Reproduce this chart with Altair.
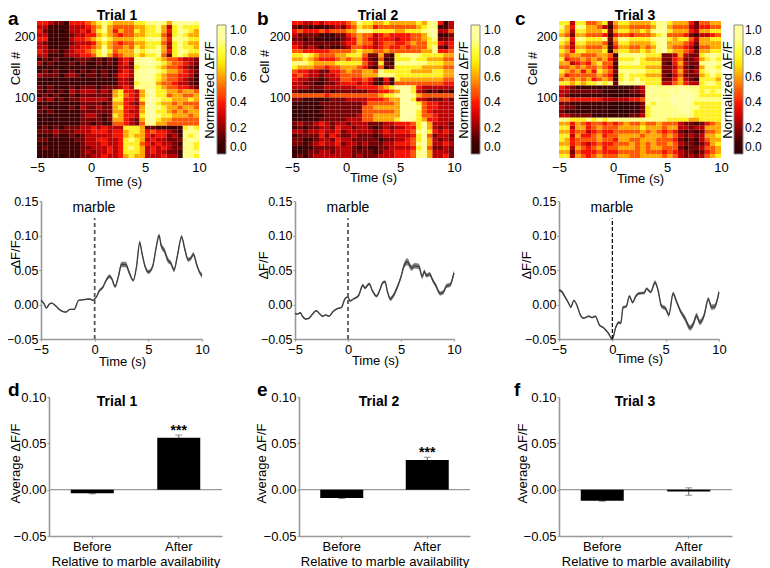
import altair as alt
import pandas as pd

FONT = "Liberation Sans"
OX, OY = 8, 8  # page margin

# Heatmap rows, top to bottom; each digit indexes LEVELS (normalized dF/F), columns span -5..10 s
LEVELS = [0, 0.07, 0.17, 0.27, 0.38, 0.49, 0.61, 0.74, 0.87, 1.0]
HEAT_A = [
"4432214445 6787666677 8898689998","3311113334 5686555566 7786378777","4211013343 5786465576 7786478876",
"3311112334 4676545566 7775378766","4411113445 6797666677 8896488877","3210112333 4676545566 7775378766",
"3311113344 5686556576 7786378776","4322123445 6797566687 8896478877","3311123344 5786456676 7785278766",
"1212111222 1212134389 9876554332","3121112121 1212134289 9987655432","1111011111 1111133278 8876554321",
"1212112121 2121134389 9987665432","3222123212 2121244389 9876554431","1101011111 1111133289 9876554321",
"1111111111 1111133278 8865543321","2121112122 2122234388 8876554432",
"2121213233 3232674436 9977665665","1212112122 2222675436 8977566556","3231212233 3332774437 9987766676",
"1111111122 2212664325 9976656555","1211112132 2322674436 9987665665","2121111122 2222664336 9977656566",
"1111111123 3212764437 9987766656","0101111122 2212664326 9976655555","1111111122 1211554325 8866555555",
"1212122233 4343337776 2211111787","2223222333 4443446776 4544321888","1112112123 3333446766 4344231878",
"2211111223 3443347876 3433222898","1111111123 3343347775 4343321887","1211111122 3334347876 3434322887",
"1111111123 2334347776 3433221888","0110011122 3343346766 3334331887",
]
HEAT_B = [
"4433434444 5687766766 6667688413","2121111232 4576645555 5556788113","4544454555 6698877776 6777899335",
"3222211122 4565534544 4455689112","2212110112 3465434443 4455678223","3322222223 4465534554 4565577434",
"4323212112 3554434544 5455578214","5544444555 5676655655 5555668445",
"7787655566 7775226217 8888777766","6676544456 5664215117 7787766655","8887666677 7775327218 9898877766",
"7666554556 6654215127 7777666655",
"5443322445 6556658777 7766667766","4543323345 5556668887 7777777766","4332212335 5445421417 6666666655",
"3322112234 4434311315 5555555544",
"3332223333 3344445679 9974333333","2111112122 2222334456 9973212121","5555554555 5555556778 9986555555",
"2211111222 3333444566 9973322232",
"1111122222 2223555556 9997544333","0111112222 2225566666 9998544333","1011122222 2225555556 9997543333",
"0101112222 2235566666 9997554333","1111122222 3335566667 9987644333",
"2322343233 2333222334 4457963332","1212233243 3233212323 3447963232","3323343342 3333323434 4458974343",
"1222242432 2322212333 3347952332","2211233243 3222221223 3457963232","2212343342 3323222334 4458963343",
"1011222233 3212112233 3347952232","0112233233 3222212334 4458963332","1212333333 3232223334 4458963342",
]
HEAT_C = [
"7737755672 6776666789 7666425566","8648866531 5665555689 6555324455","7637766672 6776676899 7666436677",
"6526655541 4554555678 5554213345","8748877782 6887777899 7677536677","7637766651 5776666789 6665426666",
"6536655561 4665565689 6554315566","7647766671 6776676789 7665426677",
"6566555665 1888887772 2363227898","7455656564 2777876662 2452236787","6634546755 1888977772 1463228998",
"5565655654 1777776662 2352126887","7656464765 2888887772 2463237898","6455555654 1787776662 1352226787",
"5656564565 1787977772 2463217776","7767677878 2898987773 3564337887",
"4321111111 0111238888 8898887777","3322222211 1112238988 9899887878","3211111111 0001128888 8999987777",
"5544444433 3334458998 9999988888","2211111111 0000128788 8999877777","3221111110 0001127888 8899887777",
"2111111110 0001127888 8899877777","3322221111 1112237888 8888877777",
"8877787878 8888888888 7777667777","6646545545 4565565565 5532212456","7736645655 5666676665 6633233666",
"6645534544 5555565654 5421212556","7736445645 5666656665 6532323667","7645555655 4665566655 5421213566",
"6645434544 5556565655 6532212467","7736545645 5666565665 5521223556","6625444544 4555565554 5432212456",
"7736545655 5665566665 6532323567",
]

# (time s, mean dF/F, half-width of the shaded band)
LINE_A = [(-5,.006,.001),(-4.75,.002,.001),(-4.5,-.005,.001),(-4.2,.001,.001),(-4,.002,.001),(-3.7,-.001,.001),
(-3.3,-.007,.001),(-3,-.010,.001),(-2.7,-.011,.001),(-2.3,-.007,.001),(-1.9,-.007,.001),(-1.5,.006,.001),
(-1,.007,.001),(-.5,.008,.001),(-.1,.006,.001),(0,.008,.001),(.2,.012,.001),(.4,.019,.002),(.8,.026,.002),
(1,.033,.002),(1.4,.041,.003),(1.6,.037,.002),(1.9,.026,.002),(2.2,.040,.003),(2.5,.058,.004),(2.9,.058,.004),
(3.2,.047,.003),(3.6,.035,.002),(3.9,.055,.003),(4.2,.090,.003),(4.4,.075,.003),(4.7,.055,.003),(5,.047,.003),
(5.4,.055,.003),(5.7,.080,.003),(6,.100,.003),(6.2,.085,.004),(6.5,.078,.004),(6.8,.065,.004),(7.1,.060,.003),
(7.4,.050,.003),(7.7,.070,.003),(8.1,.098,.003),(8.4,.080,.003),(8.7,.065,.003),(9,.068,.003),(9.2,.073,.003),
(9.5,.058,.003),(9.8,.046,.003),(10,.042,.004)]
LINE_B = [(-5,-.013,.001),(-4.8,-.014,.001),(-4.5,-.012,.001),(-4.3,-.017,.001),(-4,-.021,.001),(-3.7,-.020,.001),
(-3.4,-.015,.001),(-3,-.009,.001),(-2.7,-.013,.001),(-2.4,-.017,.001),(-2.1,-.015,.001),(-1.8,-.017,.001),
(-1.4,-.010,.001),(-1,-.006,.001),(-.6,-.004,.001),(-.3,.008,.001),(0,.011,.001),(.2,.005,.001),(.5,.008,.001),
(1,.013,.002),(1.4,.028,.002),(1.6,.024,.002),(2,.030,.002),(2.3,.020,.002),(2.7,.012,.002),(3,.021,.002),
(3.3,.032,.002),(3.5,.033,.002),(3.7,.020,.002),(4,.008,.003),(4.2,.011,.003),(4.7,.027,.003),(5,.040,.003),
(5.3,.057,.004),(5.6,.062,.005),(6,.053,.004),(6.3,.056,.004),(6.7,.055,.004),(7,.040,.003),(7.2,.048,.003),
(7.4,.042,.003),(7.7,.044,.003),(8,.035,.003),(8.3,.027,.003),(8.7,.016,.003),(9,.018,.003),(9.3,.027,.003),
(9.6,.028,.003),(10,.046,.004)]
LINE_C = [(-5,.021,.002),(-4.7,.018,.002),(-4.4,.010,.002),(-4.1,.002,.001),(-3.9,-.004,.001),(-3.6,.006,.001),
(-3.3,-.002,.001),(-3,-.015,.001),(-2.7,-.020,.001),(-2.2,-.017,.001),(-1.9,-.019,.001),(-1.6,-.017,.001),
(-1.2,-.030,.001),(-.8,-.034,.001),(-.4,-.041,.001),(0,-.050,.002),(.3,-.034,.002),(.6,-.026,.002),(.8,-.027,.002),
(1,-.004,.002),(1.3,-.003,.002),(1.6,.012,.002),(1.9,.003,.002),(2.2,.012,.002),(2.5,.016,.002),(3,.017,.002),
(3.2,.023,.002),(3.6,.018,.002),(4,.032,.003),(4.3,.020,.003),(4.6,-.002,.003),(5,-.006,.003),(5.3,-.015,.003),
(5.7,.016,.003),(6,.005,.003),(6.4,-.010,.003),(6.8,-.020,.004),(7.3,-.034,.004),(7.6,-.028,.004),(7.9,-.016,.004),
(8.2,-.026,.004),(8.6,-.016,.004),(9,.008,.003),(9.3,-.004,.004),(9.6,-.003,.004),(10,.018,.004)]

BAR_GROUPS = ["Before", "After"]
BAR_D = [-0.004, 0.056]
BAR_E = [-0.009, 0.032]
BAR_F = [-0.012, -0.002]
ERR_D = [0.0005, 0.003]
ERR_E = [0.0005, 0.003]
ERR_F = [0.0005, 0.004]
STARS = {"d": 0.0635, "e": 0.0395}

HEAT_COLORS = ["#000000", "#460000", "#8c0000", "#d20000", "#ff1700", "#ff5c00",
               "#ffa200", "#ffe800", "#ffff36", "#ffff9c", "#ffffff"]
LEG_VALUES = [0, 0.2, 0.4, 0.6, 0.8, 1.0]
GRAY = "#999999"


def label(text, x, y, size=13, weight="normal", angle=0, align="center"):
    return alt.Chart(pd.DataFrame({"t": [text]})).mark_text(
        font=FONT, fontSize=size, fontWeight=weight, angle=angle, align=align,
        baseline="middle", color="#000000",
    ).encode(text="t:N", x=alt.value(x - OX), y=alt.value(y - OY))


def axis(orient, at, title, tx, ty, values, fmt=None, tick=2, pad=1, domain=True, size=12.5, **kw):
    """tx, ty: page position of the axis title centre."""
    off = (at - OY - H) if orient == "bottom" else -(at - OX)
    args = dict(orient=orient, offset=off, values=values, grid=False, domain=domain,
                domainColor=GRAY, domainWidth=1.6, tickColor=GRAY, tickSize=tick, tickWidth=1.2,
                ticks=tick > 0, labelFont=FONT, labelFontSize=size, labelColor="#000", labelPadding=pad,
                labelOverlap=False, labelFlush=False, title=title, titleFont=FONT, titleFontSize=13,
                titleFontWeight="normal", titleColor="#000", titleBaseline="middle", titleAlign="center")
    if orient == "bottom":
        args.update(titleX=tx - OX, titleY=ty - at, titleAngle=0)
    else:
        args.update(titleX=tx - at, titleY=ty - OY, titleAngle=270)
    if fmt:
        args["format"] = fmt
    args.update(kw)
    return alt.Axis(**args)


def heat(rows, x0, x1, cb_x, cb_off, tx, ty, cx, cy):
    h = 225 / len(rows)
    recs = []
    for i, row in enumerate(rows):
        row = row.replace(" ", "")
        w = 15 / len(row)
        for j, ch in enumerate(row):
            recs.append(dict(a=-5 + j * w, b=-5 + (j + 1) * w, c=225 - (i + 1) * h, d=225 - i * h, v=LEVELS[int(ch)]))
    xs = alt.Scale(domain=[-5, 10], range=[x0 - OX, x1 - OX], nice=False, zero=False)
    ys = alt.Scale(domain=[0, 225], range=[158 - OY, 21 - OY], nice=False, zero=False)
    return alt.Chart(pd.DataFrame(recs)).mark_rect(strokeWidth=0).encode(
        x=alt.X("a:Q", scale=xs, axis=axis("bottom", 158, "Time (s)", tx, ty, [-5, 0, 5, 10], fmt="d", tick=0, pad=3, domain=False, size=13)),
        x2="b:Q",
        y=alt.Y("c:Q", scale=ys, axis=axis("left", x0, "Cell #", cx, cy, [100, 200], fmt="d", tick=0, pad=2, domain=False)),
        y2="d:Q",
        color=alt.Color("v:Q", scale=alt.Scale(domain=[0, 1], range=HEAT_COLORS), legend=alt.Legend(
            orient="none", legendX=cb_x - OX, legendY=25 - OY, direction="vertical", title=None,
            gradientLength=129, gradientThickness=9, gradientStrokeColor="#888888", gradientStrokeWidth=1,
            values=LEG_VALUES, format=".1f", labelFont=FONT, labelFontSize=12, labelColor="#000",
            labelOffset=cb_off, labelOverlap=False)),
    )


def trace(data, x0, x1, dash, width, color, tx, ty, cx, cy):
    df = pd.DataFrame(data, columns=["t", "m", "e"])
    df["lo"] = df.m - df.e
    df["hi"] = df.m + df.e
    xs = alt.Scale(domain=[-5, 10], range=[x0 - OX, x1 - OX], nice=False, zero=False)
    ys = alt.Scale(domain=[-0.05, 0.15], range=[339 - OY, 201 - OY], nice=False, zero=False)
    band = alt.Chart(df).mark_area(color="#808080", interpolate="monotone").encode(
        x=alt.X("t:Q", scale=xs, axis=axis("bottom", 339, "Time (s)", tx, ty, [-5, 0, 5, 10], fmt="d", size=13, pad=2)),
        y=alt.Y("lo:Q", scale=ys, axis=axis("left", x0, "\u0394F/F", cx, cy, [-0.05, 0, 0.05, 0.10, 0.15], fmt=".2f")),
        y2="hi:Q",
    )
    line = alt.Chart(df).mark_line(color="#404040", strokeWidth=1.4, interpolate="monotone").encode(
        x=alt.X("t:Q", scale=xs, axis=None), y=alt.Y("m:Q", scale=ys, axis=None))
    rule_df = pd.DataFrame({"t": [0], "a": [-0.05], "b": [0.125]})
    rule = alt.Chart(rule_df).mark_rule(color=color, strokeWidth=width, strokeDash=dash).encode(
        x=alt.X("t:Q", scale=xs, axis=None), y=alt.Y("a:Q", scale=ys, axis=None), y2="b:Q")
    return [band, line, rule]


def bars(vals, errs, x0, x1, cx, star=None):
    df = pd.DataFrame({"g": BAR_GROUPS, "v": vals, "e": errs})
    df["lo"] = df.v - df.e
    df["hi"] = df.v + df.e
    xs = alt.Scale(domain=BAR_GROUPS, range=[x0 - OX, x1 - OX], paddingInner=0, paddingOuter=0)
    ys = alt.Scale(domain=[-0.05, 0.10], range=[536 - OY, 397 - OY], nice=False, zero=False)
    xn = alt.X("g:N", scale=xs, axis=None, sort=BAR_GROUPS)
    yn = lambda f: alt.Y(f, scale=ys, axis=None)
    zero = alt.Chart(pd.DataFrame({"z": [0]})).mark_rule(color=GRAY, strokeWidth=1.4).encode(
        x=alt.value(x0 - OX), x2=alt.value(x1 - OX), y=yn("z:Q"))
    err = alt.Chart(df).mark_rule(color="#666666", strokeWidth=1).encode(x=xn, y=yn("lo:Q"), y2="hi:Q")
    cap_hi = alt.Chart(df).mark_tick(color="#666666", size=7, thickness=1, orient="horizontal").encode(x=xn, y=yn("hi:Q"))
    cap_lo = alt.Chart(df).mark_tick(color="#666666", size=7, thickness=1, orient="horizontal").encode(x=xn, y=yn("lo:Q"))
    bar = alt.Chart(df).mark_bar(color="#000000", size=43).encode(
        x=alt.X("g:N", scale=xs, sort=BAR_GROUPS, axis=axis(
            "bottom", 536, "Relative to marble availability", (x0 + x1) / 2, 561.5, BAR_GROUPS,
            labelAngle=0, tick=2, pad=2, size=13)),
        y=alt.Y("v:Q", scale=ys, stack=None, axis=axis(
            "left", x0, "Average \u0394F/F", cx, 463, [-0.05, 0, 0.05, 0.10], fmt=".2f", size=13)),
    )
    out = [zero, err, cap_hi, cap_lo, bar]
    if star is not None:
        sd = pd.DataFrame({"g": ["After"], "s": [star], "t": ["***"]})
        out.append(alt.Chart(sd).mark_text(font=FONT, fontSize=14, fontWeight="bold", baseline="middle", color="#000").encode(
            x=xn, y=yn("s:Q"), text="t:N"))
    return out


H = 560
layers = []
layers.append(heat(HEAT_A, 37, 199, 217, 4, 118, 181, 15, 68))
layers.append(heat(HEAT_B, 292, 454, 471, 4, 373, 177, 264, 66))
layers.append(heat(HEAT_C, 559, 721, 734, 2, 640, 178, 532, 68))
layers += trace(LINE_A, 41, 202, [4, 3], 1.8, "#555555", 122, 361, 15, 254)
layers += trace(LINE_B, 295, 454, [4, 3], 1.8, "#555555", 375, 360, 263, 265)
layers += trace(LINE_C, 559, 719, [4, 2], 1.2, "#000000", 639, 358, 526, 265)
layers += bars(BAR_D, ERR_D, 49, 222, 15, STARS["d"])
layers += bars(BAR_E, ERR_E, 299, 470, 261, STARS["e"])
layers += bars(BAR_F, ERR_F, 559, 732, 522)

for txt, x, y in [("Trial 1", 117, 16), ("Trial 2", 378, 16), ("Trial 3", 635, 16),
                  ("Trial 1", 117, 402), ("Trial 2", 379, 402), ("Trial 3", 635, 402)]:
    layers.append(label(txt, x, y, size=14, weight="bold"))
for txt, x, y in [("a", 8, 19), ("b", 257, 19), ("c", 515, 19), ("d", 8, 390), ("e", 257, 390), ("f", 514, 390)]:
    layers.append(label(txt, x, y, size=19, weight="bold", align="left"))
for x in (94, 348, 612):
    layers.append(label("marble", x, 208, size=14))
for x, y in ((210, 90), (464, 90), (727.5, 90)):
    layers.append(label("Normalized \u0394F/F", x, y, size=13, angle=270))

chart = alt.layer(*layers).resolve_scale(x="independent", y="independent", color="independent").resolve_axis(
    x="independent", y="independent").properties(
    width=754, height=H, padding=0, autosize=alt.AutoSizeParams(type="none"), background="white"
).configure_view(stroke=None)

chart.save("out.html", embed_options={"renderer": "svg", "actions": False})
